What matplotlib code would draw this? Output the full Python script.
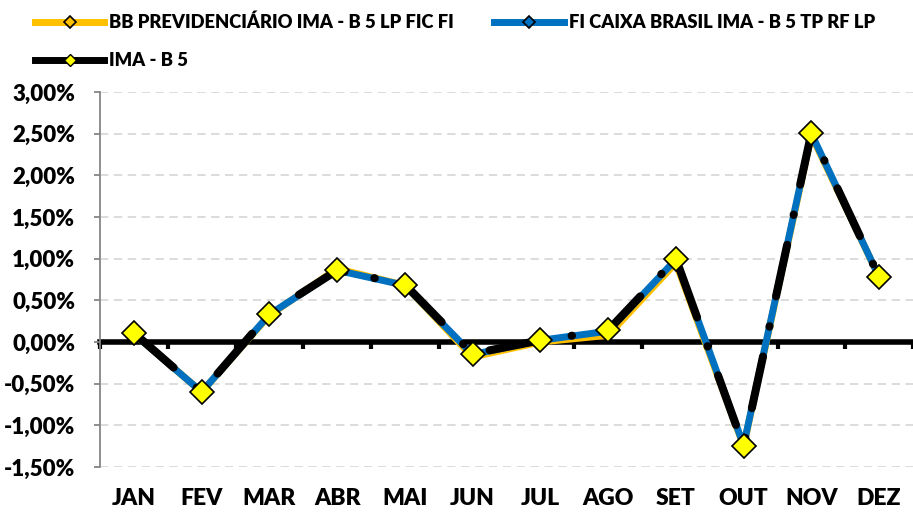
import numpy as np
import matplotlib
matplotlib.use("Agg")
import matplotlib.pyplot as plt
from matplotlib.lines import Line2D
import matplotlib.transforms as mtransforms

plt.rcParams['font.family'] = ['Lato', 'DejaVu Sans']
plt.rcParams['font.weight'] = 'heavy'
plt.rcParams['lines.scale_dashes'] = False

# data (% per month)
months = ['JAN', 'FEV', 'MAR', 'ABR', 'MAI', 'JUN', 'JUL', 'AGO', 'SET', 'OUT', 'NOV', 'DEZ']
bb_prev = [0.10, -0.60, 0.32, 0.88, 0.68, -0.18, 0.00, 0.08, 0.95, -1.25, 2.48, 0.78]
caixa = [0.10, -0.60, 0.33, 0.86, 0.68, -0.15, 0.02, 0.13, 0.99, -1.24, 2.50, 0.78]
ima_b5 = [0.11, -0.60, 0.34, 0.86, 0.69, -0.14, 0.02, 0.14, 1.00, -1.25, 2.51, 0.78]
yticks = np.arange(-1.5, 3.01, 0.5)

labels = ['BB PREVIDENCIÁRIO IMA - B 5 LP FIC FI', 'FI CAIXA BRASIL IMA - B 5 TP RF LP', 'IMA - B 5']
c_bb, c_cx, c_ima = '#FFC000', '#0070C0', '#000000'

fig = plt.figure(figsize=(9.13, 5.13), dpi=100)
ax = fig.add_axes([100/913, 1 - 467/513, 813/913, 375/513])

x = np.arange(len(months))

# gridlines
for v in yticks:
    if abs(v) > 1e-9:
        ax.axhline(v, color='#D9D9D9', lw=1.3, ls=(0, (6, 4)), zorder=0)

ax.plot(x, bb_prev, color=c_bb, lw=5, solid_capstyle='round', zorder=2)
ax.plot(x, caixa, color=c_cx, lw=5, solid_capstyle='round', zorder=3)
ln, = ax.plot(x, ima_b5, color=c_ima, lw=5.8, ls=(0, (38, 22, 0.3, 22)), zorder=4,
              marker='D', markersize=12, markerfacecolor='#FFFF00',
              markeredgecolor='black', markeredgewidth=1.2)
ln.set_dash_capstyle('round')

ax.set_xlim(-0.5, len(months) - 0.5)
ax.set_ylim(-1.5, 3.0)

# zero axis with category separators
ax.spines['bottom'].set_position(('data', 0))
ax.spines['bottom'].set_linewidth(4)
ax.spines['bottom'].set_zorder(1)
ax.set_xticks(np.arange(-0.5, len(months), 1))
ax.set_xticklabels([])
ax.tick_params(axis='x', direction='out', length=5, width=3, color='black')
ax.spines['top'].set_visible(False)
ax.spines['right'].set_visible(False)
ax.spines['left'].set_color('#868686')
ax.spines['left'].set_linewidth(1.3)

ax.set_yticks(yticks)
ax.set_yticklabels([f'{v:.2f}%'.replace('.', ',') for v in yticks], fontsize=16, fontweight='heavy')
ax.tick_params(axis='y', direction='out', length=4, width=1.3, color='#868686', pad=14)

trans = mtransforms.blended_transform_factory(ax.transData, ax.transAxes)
for i, m in enumerate(months):
    ax.text(i, -0.085, m, transform=trans, ha='center', va='center',
            fontsize=16.5, fontweight='heavy')

handles = [
    Line2D([], [], color=c_bb, lw=5, marker='D', markersize=6, markerfacecolor=c_bb,
           markeredgecolor='black', markeredgewidth=1.2),
    Line2D([], [], color=c_ima, lw=5, marker='D', markersize=6, markerfacecolor='#FFFF00',
           markeredgecolor='black', markeredgewidth=1.0),
    Line2D([], [], color=c_cx, lw=5, marker='D', markersize=6, markerfacecolor=c_cx,
           markeredgecolor='black', markeredgewidth=1.2),
]
fig.legend(handles, [labels[0], labels[2], labels[1]], loc='upper left',
           bbox_to_anchor=(0.02, 1.006), ncol=2, frameon=False,
           prop={'size': 13.2, 'weight': 'heavy'}, handlelength=3.8,
           handletextpad=0.27, columnspacing=2.2, labelspacing=1.15)

fig.savefig('out.png', dpi=100)
